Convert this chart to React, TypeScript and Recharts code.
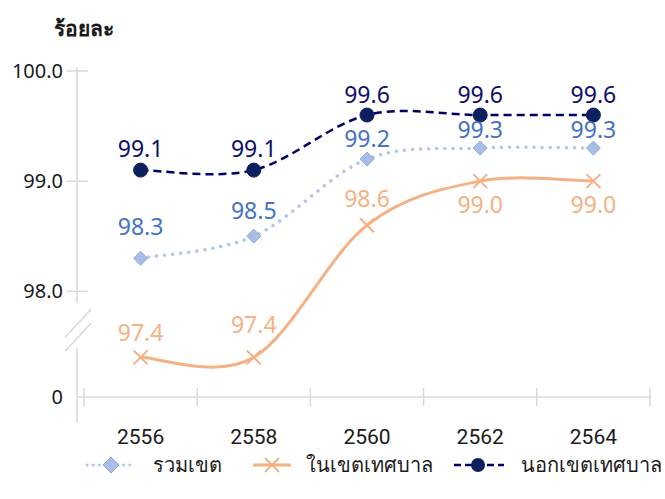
import React from 'react';
import { LineChart, Line, XAxis, YAxis, LabelList, Legend } from 'recharts';

// ค่าร้อยละ แยกตามเขตการปกครอง
const YEARS = ['2556', '2558', '2560', '2562', '2564'];
const TOTAL = [98.3, 98.5, 99.2, 99.3, 99.3];
const INNER = [97.4, 97.4, 98.6, 99.0, 99.0];
const OUTER = [99.1, 99.1, 99.6, 99.6, 99.6];

// แกน y ถูกตัด: ค่าล่างสุดแสดงเป็น "0"
const Y_TICKS = [97.04, 98, 99, 100];
const Y_TICK_LABELS = ['0', '98.0', '99.0', '100.0'];

// ตำแหน่งป้ายค่า (ด้าน + ระยะห่างจากจุด)
const TOTAL_LABEL_GAP = [23, 17, 12, 10, 10];
const INNER_LABEL_SIDE = ['top', 'top', 'top', 'bottom', 'bottom'];
const INNER_LABEL_GAP = [16, 24, 18, 12, 12];
const OUTER_LABEL_GAP = [13, 13, 12, 12, 12];

const SERIES_NAMES = ['รวมเขต', 'ในเขตเทศบาล', 'นอกเขตเทศบาล'];

const C_TOTAL_LINE = '#b4c7e7';
const C_TOTAL_MARK = '#a9bee6';
const C_TOTAL_LABEL = '#4472c4';
const C_INNER = '#f4b183';
const C_OUTER_LINE = '#000066';
const C_OUTER_MARK = '#0c1f5e';
const C_OUTER_LABEL = '#0d0d6b';
const AXIS = '#d9d9d9';

const FONT = '"Noto Sans", "Open Sans", sans-serif';

const data = YEARS.map((year, i) => ({
  pos: i + 0.5,
  year,
  total: TOTAL[i],
  inner: INNER[i],
  outer: OUTER[i],
}));

const X_TICKS = YEARS.flatMap((_, i) => [i, i + 0.5]).concat(YEARS.length);

// เส้นโค้งแบบ Excel (Catmull-Rom, tension 1/6)
function smoothCurve(context: any) {
  let pts: number[][] = [];
  return {
    areaStart() {},
    areaEnd() {},
    lineStart() {
      pts = [];
    },
    point(x: number, y: number) {
      pts.push([+x, +y]);
    },
    lineEnd() {
      if (!pts.length) return;
      context.moveTo(pts[0][0], pts[0][1]);
      for (let i = 0; i < pts.length - 1; i++) {
        const p0 = pts[Math.max(i - 1, 0)];
        const p1 = pts[i];
        const p2 = pts[i + 1];
        const p3 = pts[Math.min(i + 2, pts.length - 1)];
        context.bezierCurveTo(
          p1[0] + (p2[0] - p0[0]) / 6,
          p1[1] + (p2[1] - p0[1]) / 6,
          p2[0] - (p3[0] - p1[0]) / 6,
          p2[1] - (p3[1] - p1[1]) / 6,
          p2[0],
          p2[1]
        );
      }
    },
  };
}

function XTick(props: any) {
  const { x, y, payload } = props;
  const v = payload.value;
  if (Number.isInteger(v)) {
    return <line x1={x} x2={x} y1={y - 9} y2={y + 9} stroke={AXIS} strokeWidth={1.5} />;
  }
  return (
    <text x={x} y={y + 47} textAnchor="middle" fontSize={21} fontFamily="Roboto, sans-serif" fill="#1a1a1a">
      {YEARS[Math.floor(v)]}
    </text>
  );
}

function YTick(props: any) {
  const { x, y, index } = props;
  const label = Y_TICK_LABELS[index];
  const isZero = index === 0;
  const isBreak = index === 1;
  return (
    <g>
      <text x={x - 14} y={y} dy="0.35em" textAnchor="end" fontSize={20} fontFamily={FONT} fill="#1a1a1a">
        {label}
      </text>
      {!isZero && <line x1={x - 10} x2={x + 11} y1={y} y2={y} stroke={AXIS} strokeWidth={1.5} />}
      {index === Y_TICKS.length - 1 && <line x1={x} x2={x} y1={y - 4} y2={y} stroke={AXIS} strokeWidth={1.5} />}
      {isZero && <line x1={x} x2={x} y1={y} y2={y + 26} stroke={AXIS} strokeWidth={1.5} />}
      {isBreak && (
        <g>
          <rect x={x - 3} y={y + 12} width={6} height={45} fill="#fff" />
          <line x1={x - 12} x2={x + 14} y1={y + 46} y2={y + 18} stroke={AXIS} strokeWidth={1.5} />
          <line x1={x - 12} x2={x + 14} y1={y + 60} y2={y + 32} stroke={AXIS} strokeWidth={1.5} />
        </g>
      )}
    </g>
  );
}

function Diamond(props: any) {
  const { cx, cy, index } = props;
  if (cx == null || cy == null) return null;
  const r = 7;
  return (
    <path
      key={`d-${index}`}
      d={`M${cx},${cy - r}L${cx + r},${cy}L${cx},${cy + r}L${cx - r},${cy}Z`}
      fill={C_TOTAL_MARK}
      stroke="#8faadc"
      strokeWidth={1}
    />
  );
}

function Cross(props: any) {
  const { cx, cy, index } = props;
  if (cx == null || cy == null) return null;
  const r = 7;
  return (
    <g key={`x-${index}`}>
      <line x1={cx - r} x2={cx + r} y1={cy - r} y2={cy + r} stroke={C_INNER} strokeWidth={2} />
      <line x1={cx - r} x2={cx + r} y1={cy + r} y2={cy - r} stroke={C_INNER} strokeWidth={2} />
    </g>
  );
}

const makeLabel = (color: string, sides: string[] | null, gaps: number[]) => (props: any) => {
  const { x, y, value, index } = props;
  const side = sides ? sides[index] : 'top';
  const gap = gaps[index];
  const ty = side === 'top' ? y - gap : y + gap;
  return (
    <text
      x={x}
      y={ty}
      textAnchor="middle"
      dominantBaseline={side === 'top' ? 'auto' : 'hanging'}
      fontSize={23}
      fontFamily={FONT}
      fill={color}
    >
      {Number(value).toFixed(1)}
    </text>
  );
};

function LegendIcon({ kind }: { kind: number }) {
  if (kind === 0) {
    return (
      <svg width={52} height={24}>
        <line x1={2} x2={50} y1={12} y2={12} stroke={C_TOTAL_LINE} strokeWidth={3} strokeDasharray="0.1 6" strokeLinecap="round" />
        <path d="M26,4L34,12L26,20L18,12Z" fill={C_TOTAL_MARK} stroke="#8faadc" />
      </svg>
    );
  }
  if (kind === 1) {
    return (
      <svg width={40} height={24}>
        <line x1={1} x2={39} y1={12} y2={12} stroke={C_INNER} strokeWidth={3} />
        <line x1={13} x2={27} y1={5} y2={19} stroke={C_INNER} strokeWidth={2} />
        <line x1={13} x2={27} y1={19} y2={5} stroke={C_INNER} strokeWidth={2} />
      </svg>
    );
  }
  return (
    <svg width={52} height={24}>
      <line x1={1} x2={51} y1={12} y2={12} stroke={C_OUTER_LINE} strokeWidth={2.5} strokeDasharray="7 4" />
      <circle cx={25} cy={12} r={7} fill={C_OUTER_MARK} />
    </svg>
  );
}

function LegendContent() {
  return (
    <div
      style={{
        height: 40,
        display: 'flex',
        alignItems: 'center',
        paddingLeft: 85,
        fontFamily: FONT,
        fontSize: 20,
        color: '#1a1a1a',
        whiteSpace: 'nowrap',
      }}
    >
      {SERIES_NAMES.map((name, i) => (
        <div key={name} style={{ display: 'flex', alignItems: 'center', marginRight: i === 0 ? 30 : 20 }}>
          <LegendIcon kind={i} />
          <span style={{ marginLeft: i === 1 ? 14 : 16 }}>{name}</span>
        </div>
      ))}
    </div>
  );
}

export default function App() {
  return (
    <div style={{ position: 'absolute', left: 0, top: 0, width: 665, height: 499, background: '#fff' }}>
      <div
        style={{
          position: 'absolute',
          left: 54,
          top: 12,
          fontFamily: FONT,
          fontSize: 21,
          fontWeight: 600,
          color: '#1a1a1a',
        }}
      >
        ร้อยละ
      </div>
      <LineChart width={665} height={499} data={data} margin={{ top: 71, right: 15, bottom: 14, left: 0 }}>
        <XAxis
          dataKey="pos"
          type="number"
          domain={[0, YEARS.length]}
          ticks={X_TICKS}
          interval={0}
          padding={{ left: 7 }}
          height={48}
          tickSize={0}
          tickMargin={0}
          tickLine={false}
          axisLine={{ stroke: AXIS, strokeWidth: 1.5 }}
          tick={<XTick />}
        />
        <YAxis
          type="number"
          domain={[Y_TICKS[0], Y_TICKS[Y_TICKS.length - 1]]}
          ticks={Y_TICKS}
          interval={0}
          width={77}
          tickSize={0}
          tickMargin={0}
          tickLine={false}
          axisLine={{ stroke: AXIS, strokeWidth: 1.5 }}
          tick={<YTick />}
        />
        <Legend verticalAlign="bottom" align="left" height={40} content={<LegendContent />} />
        <Line
          type={smoothCurve as any}
          dataKey="total"
          name={SERIES_NAMES[0]}
          stroke={C_TOTAL_LINE}
          strokeWidth={3.5}
          strokeDasharray="0.1 8"
          strokeLinecap="round"
          dot={<Diamond />}
          isAnimationActive={false}
        >
          <LabelList dataKey="total" content={makeLabel(C_TOTAL_LABEL, null, TOTAL_LABEL_GAP)} />
        </Line>
        <Line
          type={smoothCurve as any}
          dataKey="inner"
          name={SERIES_NAMES[1]}
          stroke={C_INNER}
          strokeWidth={3}
          dot={<Cross />}
          isAnimationActive={false}
        >
          <LabelList dataKey="inner" content={makeLabel(C_INNER, INNER_LABEL_SIDE, INNER_LABEL_GAP)} />
        </Line>
        <Line
          type={smoothCurve as any}
          dataKey="outer"
          name={SERIES_NAMES[2]}
          stroke={C_OUTER_LINE}
          strokeWidth={2.5}
          strokeDasharray="8 5"
          dot={{ r: 7, fill: C_OUTER_MARK, stroke: C_OUTER_MARK, strokeDasharray: '0', strokeWidth: 1 }}
          isAnimationActive={false}
        >
          <LabelList dataKey="outer" content={makeLabel(C_OUTER_LABEL, null, OUTER_LABEL_GAP)} />
        </Line>
      </LineChart>
    </div>
  );
}
